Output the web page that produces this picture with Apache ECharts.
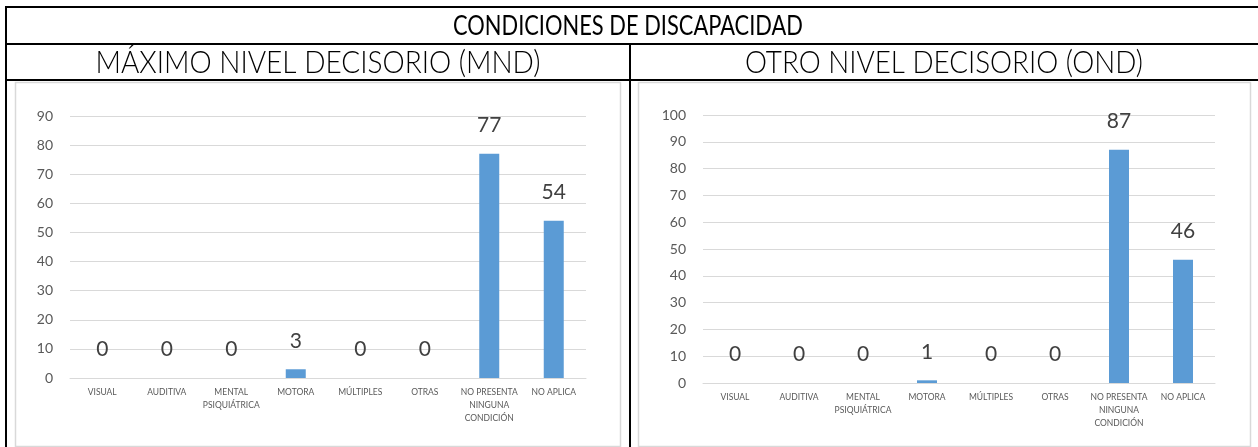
<!DOCTYPE html>
<html>
<head>
<meta charset="utf-8">
<script src="https://cdn.jsdelivr.net/npm/echarts@6/dist/echarts.min.js"></script>
<style>
  html, body { margin: 0; padding: 0; background: #ffffff; }
  #chart { width: 1258px; height: 447px; }
</style>
</head>
<body>
<div id="chart"></div>
<script>
// ---- data ----
var categories = ['VISUAL', 'AUDITIVA', 'MENTAL\nPSIQUIÁTRICA', 'MOTORA', 'MÚLTIPLES', 'OTRAS', 'NO PRESENTA\nNINGUNA\nCONDICIÓN', 'NO APLICA'];
var mndValues = [0, 0, 0, 3, 0, 0, 77, 54];
var ondValues = [0, 0, 0, 1, 0, 0, 87, 46];
var mainTitle = 'CONDICIONES DE DISCAPACIDAD';
var leftTitle = 'MÁXIMO NIVEL DECISORIO (MND)';
var rightTitle = 'OTRO NIVEL DECISORIO (OND)';
var mndMax = 90, ondMax = 100, tickStep = 10;

var FONT = 'Lato, "Open Sans", sans-serif';
var TITLE_FONT = 'Lato, "Noto Sans", sans-serif';

function textScale(text, size, weight, family, target) {
  var c = document.createElement('canvas').getContext('2d');
  c.font = weight + ' ' + size + 'px ' + family;
  var w = c.measureText(text).width;
  return w > 0 ? target / w : 1;
}

function titleText(text, cx, cy, size, weight, targetW) {
  var s = textScale(text, size, weight, TITLE_FONT, targetW);
  return {
    type: 'text', x: cx, y: cy, scaleX: s, scaleY: 1, z: 10,
    style: {
      text: text, x: 0, y: 0, fill: '#000000',
      fontSize: size, fontWeight: weight, fontFamily: TITLE_FONT,
      textAlign: 'center', textVerticalAlign: 'middle',
      align: 'center', verticalAlign: 'middle'
    }
  };
}

function xAxisCfg(idx) {
  return {
    type: 'category', gridIndex: idx, data: categories,
    axisLine: { show: true, lineStyle: { color: '#d9d9d9', width: 1 } },
    axisTick: { show: false },
    axisLabel: { interval: 0, color: '#595959', fontSize: 8.5, fontFamily: FONT, lineHeight: 13, margin: 8 }
  };
}
function yAxisCfg(idx, max) {
  return {
    type: 'value', gridIndex: idx, min: 0, max: max, interval: tickStep,
    axisLine: { show: false }, axisTick: { show: false },
    splitLine: { show: true, lineStyle: { color: '#d9d9d9', width: 1 } },
    axisLabel: { color: '#595959', fontSize: 14, fontFamily: FONT, margin: 17 }
  };
}
function barSeries(idx, values) {
  return {
    type: 'bar', xAxisIndex: idx, yAxisIndex: idx, data: values,
    barWidth: 20,
    itemStyle: { color: '#5b9bd5' },
    label: { show: true, position: 'top', distance: 18, color: '#404040', fontSize: 21, fontFamily: FONT },
    silent: true
  };
}

var chart = echarts.init(document.getElementById('chart'), null, { renderer: 'canvas' });
chart.setOption({
  backgroundColor: '#ffffff',
  animation: false,
  grid: [
    { left: 70, top: 116, width: 516, height: 262, containLabel: false },
    { left: 703, top: 115, width: 512, height: 268, containLabel: false }
  ],
  xAxis: [xAxisCfg(0), xAxisCfg(1)],
  yAxis: [yAxisCfg(0, mndMax), yAxisCfg(1, ondMax)],
  series: [barSeries(0, mndValues), barSeries(1, ondValues)],
  graphic: [
    // inner chart boxes
    { type: 'rect', shape: { x: 15.5, y: 82.5, width: 605, height: 364 }, style: { fill: 'none', stroke: '#d9d9d9', lineWidth: 1.5 }, z: 1 },
    { type: 'rect', shape: { x: 638.5, y: 82.5, width: 612, height: 364 }, style: { fill: 'none', stroke: '#d9d9d9', lineWidth: 1.5 }, z: 1 },
    // table frame
    { type: 'rect', shape: { x: 6, y: 7, width: 1270, height: 460 }, style: { fill: 'none', stroke: '#000000', lineWidth: 2 }, z: 5 },
    { type: 'line', shape: { x1: 6, y1: 44, x2: 1270, y2: 44 }, style: { stroke: '#000000', lineWidth: 2 }, z: 5 },
    { type: 'line', shape: { x1: 6, y1: 80, x2: 1270, y2: 80 }, style: { stroke: '#000000', lineWidth: 2 }, z: 5 },
    { type: 'line', shape: { x1: 630, y1: 44, x2: 630, y2: 460 }, style: { stroke: '#000000', lineWidth: 2 }, z: 5 },
    // titles
    titleText(mainTitle, 628, 26, 27, 'normal', 350),
    titleText(leftTitle, 318, 63, 32, 300, 445),
    titleText(rightTitle, 944, 63, 32, 300, 398)
  ]
});
</script>
</body>
</html>
